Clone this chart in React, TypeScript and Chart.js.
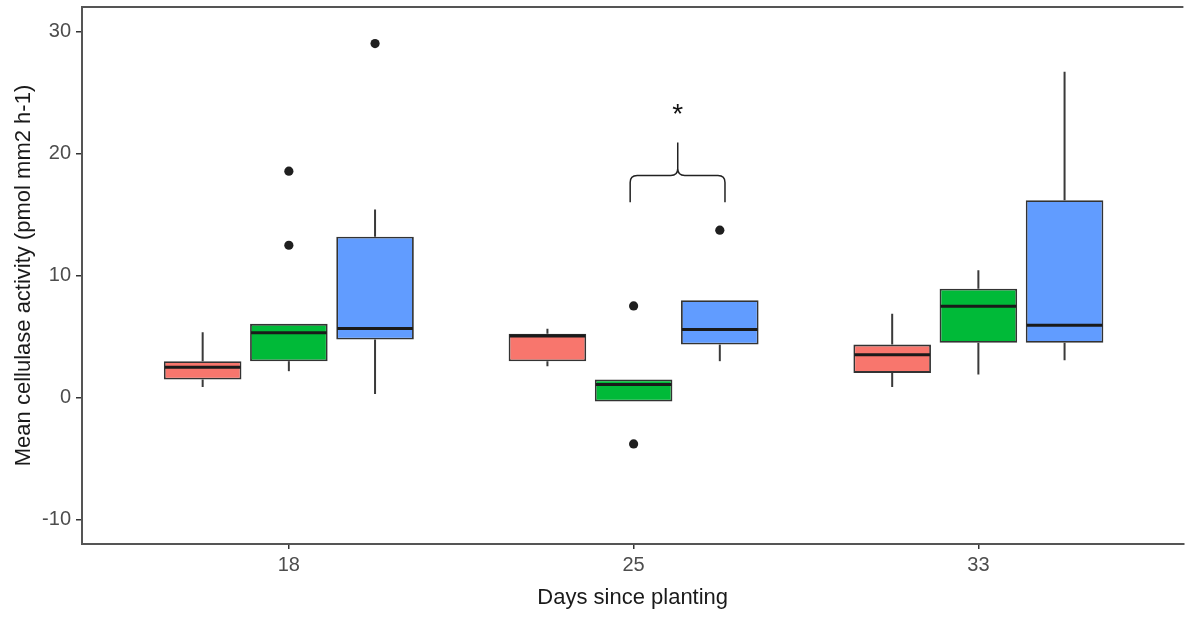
import React, { useEffect, useRef } from 'react';
import { Chart, registerables } from 'chart.js';

Chart.register(...registerables);

// ---------- data ----------
const DAYS = ['18', '25', '33'];
const DAY_POS = [1, 2, 3];
const Y_TICKS = [-10, 0, 10, 20, 30];
const SERIES_LABELS = ['Group 1', 'Group 2', 'Group 3'];
const SERIES_COLORS = ['#F8766D', '#00BA38', '#619CFF'];

const RED_LOW = [0.87, 2.57, 0.87];
const RED_Q1 = [1.48, 2.98, 2.02];
const RED_MED = [2.48, 5.05, 3.5];
const RED_Q3 = [2.98, 5.22, 4.34];
const RED_HIGH = [5.35, 5.63, 6.86];
const RED_OUT: number[][] = [[], [], []];

const GREEN_LOW = [2.16, -0.33, 1.89];
const GREEN_Q1 = [2.98, -0.33, 4.48];
const GREEN_MED = [5.3, 1.07, 7.48];
const GREEN_Q3 = [6.04, 1.48, 8.91];
const GREEN_HIGH = [6.04, 1.48, 10.44];
const GREEN_OUT: number[][] = [[18.55, 12.48], [7.51, -3.8], []];

const BLUE_LOW = [0.3, 2.98, 3.06];
const BLUE_Q1 = [4.75, 4.34, 4.48];
const BLUE_MED = [5.66, 5.57, 5.93];
const BLUE_Q3 = [13.17, 7.98, 16.17];
const BLUE_HIGH = [15.4, 7.98, 26.7];
const BLUE_OUT: number[][] = [[29.0], [13.71], []];

// significance bracket (between group 2 and group 3 at day 25)
const BRACE_LEFT = 1.99;
const BRACE_RIGHT = 2.265;
const BRACE_BASE = 16.0;
const BRACE_ARM = 18.2;
const BRACE_TIP = 20.9;
const STAR_X = 2.128;
const STAR_Y = 23.6;
const STAR_TEXT = '*';

const X_TITLE = 'Days since planting';
const Y_TITLE = 'Mean cellulase activity (pmol mm2 h-1)';

const SERIES = [
  { low: RED_LOW, q1: RED_Q1, med: RED_MED, q3: RED_Q3, high: RED_HIGH, out: RED_OUT },
  { low: GREEN_LOW, q1: GREEN_Q1, med: GREEN_MED, q3: GREEN_Q3, high: GREEN_HIGH, out: GREEN_OUT },
  { low: BLUE_LOW, q1: BLUE_Q1, med: BLUE_MED, q3: BLUE_Q3, high: BLUE_HIGH, out: BLUE_OUT },
];

const DODGE_WIDTH = 0.75;
const FONT = "'Liberation Sans', Arial, Helvetica, sans-serif";

const zeroPad = (s: any) => {
  s.paddingTop = 0;
  s.paddingBottom = 0;
  s.paddingLeft = 0;
  s.paddingRight = 0;
};

const boxExtras = {
  id: 'boxExtras',
  beforeDatasetsDraw(chart: any) {
    const ctx = chart.ctx;
    const y = chart.scales.y;
    ctx.save();
    ctx.strokeStyle = '#3a3a3a';
    ctx.lineWidth = 2;
    SERIES.forEach((s, di) => {
      const meta = chart.getDatasetMeta(di + 1);
      meta.data.forEach((bar: any, i: number) => {
        const { x } = bar.getProps(['x'], true);
        ctx.beginPath();
        ctx.moveTo(x, y.getPixelForValue(s.high[i]));
        ctx.lineTo(x, y.getPixelForValue(s.q3[i]));
        ctx.moveTo(x, y.getPixelForValue(s.q1[i]));
        ctx.lineTo(x, y.getPixelForValue(s.low[i]));
        ctx.stroke();
      });
    });
    ctx.restore();
  },
  afterDatasetsDraw(chart: any) {
    const ctx = chart.ctx;
    const { x: xs, y } = chart.scales;
    ctx.save();
    // medians
    ctx.strokeStyle = '#1a1a1a';
    ctx.lineWidth = 3;
    SERIES.forEach((s, di) => {
      const meta = chart.getDatasetMeta(di + 1);
      meta.data.forEach((bar: any, i: number) => {
        const { x, width } = bar.getProps(['x', 'width'], true);
        const py = y.getPixelForValue(s.med[i]);
        ctx.beginPath();
        ctx.moveTo(x - width / 2 + 1, py);
        ctx.lineTo(x + width / 2 - 1, py);
        ctx.stroke();
      });
    });
    // brace
    const xL = xs.getPixelForValue(BRACE_LEFT);
    const xR = xs.getPixelForValue(BRACE_RIGHT);
    const xM = xs.getPixelForValue(STAR_X);
    const yB = y.getPixelForValue(BRACE_BASE);
    const yA = y.getPixelForValue(BRACE_ARM);
    const yT = y.getPixelForValue(BRACE_TIP);
    const r = 7;
    ctx.strokeStyle = '#222222';
    ctx.lineWidth = 1.5;
    ctx.beginPath();
    ctx.moveTo(xL, yB);
    ctx.lineTo(xL, yA + r);
    ctx.quadraticCurveTo(xL, yA, xL + r, yA);
    ctx.lineTo(xM - r, yA);
    ctx.quadraticCurveTo(xM, yA, xM, yA - r);
    ctx.lineTo(xM, yT);
    ctx.moveTo(xR, yB);
    ctx.lineTo(xR, yA + r);
    ctx.quadraticCurveTo(xR, yA, xR - r, yA);
    ctx.lineTo(xM + r, yA);
    ctx.quadraticCurveTo(xM, yA, xM, yA - r);
    ctx.stroke();
    // star
    ctx.fillStyle = '#111111';
    ctx.font = `28px ${FONT}`;
    ctx.textAlign = 'center';
    ctx.textBaseline = 'alphabetic';
    ctx.fillText(STAR_TEXT, xs.getPixelForValue(STAR_X), y.getPixelForValue(STAR_Y) + 13);
    // top frame line
    const ca = chart.chartArea;
    ctx.strokeStyle = '#555555';
    ctx.lineWidth = 2;
    ctx.beginPath();
    ctx.moveTo(ca.left - 1, ca.top);
    ctx.lineTo(ca.right, ca.top);
    ctx.stroke();
    ctx.restore();
  },
};

export default function App() {
  const ref = useRef<HTMLCanvasElement | null>(null);
  useEffect(() => {
    if (!ref.current) return;
    const outlierPoints: { x: number; y: number }[] = [];
    SERIES.forEach((s, k) => {
      const off = (k - (SERIES.length - 1) / 2) * (DODGE_WIDTH / SERIES.length);
      s.out.forEach((vals, i) => vals.forEach((v) => outlierPoints.push({ x: DAY_POS[i] + off, y: v })));
    });
    const barSets = SERIES.map((s, k) => ({
      type: 'bar' as const,
      label: SERIES_LABELS[k],
      data: DAY_POS.map((p, i) => ({ x: p, y: [s.q1[i], s.q3[i]] })),
      backgroundColor: SERIES_COLORS[k],
      borderColor: '#333333',
      borderWidth: 1.8,
      borderSkipped: false,
      categoryPercentage: DODGE_WIDTH,
      barPercentage: 0.9,
    }));
    const chart = new Chart(ref.current, {
      type: 'bar',
      data: {
        datasets: [
          {
            type: 'scatter' as const,
            label: 'outliers',
            data: outlierPoints,
            pointRadius: 4.6,
            pointBackgroundColor: '#1f1f1f',
            pointBorderWidth: 0,
            showLine: false,
          } as any,
          ...barSets,
        ],
      },
      options: {
        animation: false,
        responsive: true,
        maintainAspectRatio: false,
        layout: { padding: { top: 7, right: 0, bottom: 0, left: 0 } },
        plugins: { legend: { display: false }, tooltip: { enabled: false } },
        scales: {
          x: {
            type: 'linear',
            min: 0.4,
            max: 0.4 + (1188 - 82) / 346.2,
            offset: false,
            afterBuildTicks: (s: any) => {
              s.ticks = DAY_POS.map((v) => ({ value: v }));
            },
            afterFit: (s: any) => {
              s.height = 75;
              zeroPad(s);
            },
            border: { display: true, color: '#555555', width: 2 },
            grid: { display: true, drawOnChartArea: false, drawTicks: true, tickLength: 5, color: '#333333', lineWidth: 1.5, offset: false },
            ticks: {
              color: '#4d4d4d',
              font: { family: FONT, size: 20 },
              padding: 4,
              maxRotation: 0,
              autoSkip: false,
              callback: (_v: any, i: number) => DAYS[i],
            },
            title: { display: true, text: X_TITLE, color: '#1a1a1a', font: { family: FONT, size: 22 }, padding: { top: 0, bottom: 8 } },
          },
          y: {
            min: -12,
            max: 32,
            afterBuildTicks: (s: any) => {
              s.ticks = Y_TICKS.map((v) => ({ value: v }));
            },
            afterFit: (s: any) => {
              s.width = 82;
              zeroPad(s);
            },
            border: { display: true, color: '#555555', width: 2 },
            grid: { display: true, drawOnChartArea: false, drawTicks: true, tickLength: 6, color: '#333333', lineWidth: 1.5 },
            ticks: { color: '#4d4d4d', font: { family: FONT, size: 20 }, padding: 5 },
            title: { display: true, text: Y_TITLE, color: '#1a1a1a', font: { family: FONT, size: 22 }, padding: { top: 11, bottom: 0 } },
          },
        },
      } as any,
      plugins: [boxExtras],
    });
    return () => chart.destroy();
  }, []);
  return (
    <div style={{ position: 'fixed', left: 0, top: 0, width: 1188, height: 619, background: '#ffffff' }}>
      <canvas ref={ref} />
    </div>
  );
}
